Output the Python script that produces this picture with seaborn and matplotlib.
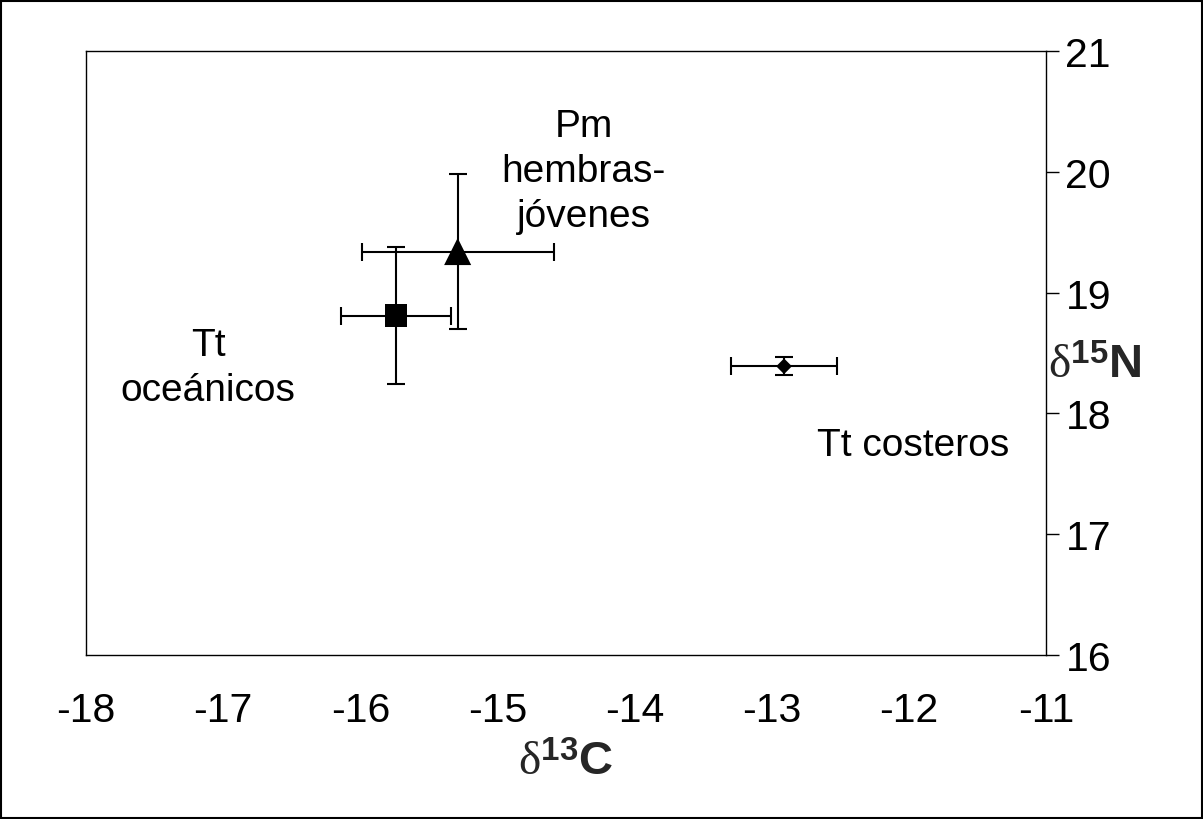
import matplotlib
matplotlib.use("Agg")
import matplotlib.pyplot as plt
import seaborn as sns
import pandas as pd
from matplotlib.patches import Rectangle

# ---- data ----
groups = ["Tt oceánicos", "Pm hembras-jóvenes", "Tt costeros"]
d13C = [-15.74, -15.29, -12.91]
d15N = [18.81, 19.34, 18.39]
d13C_err = [0.40, 0.70, 0.385]
d15N_err = [0.57, 0.64, 0.075]
markers = ["s", "^", "D"]
marker_sizes = [16.3, 19.5, 8.0]

xticks = [-18, -17, -16, -15, -14, -13, -12, -11]
yticks = [16, 17, 18, 19, 20, 21]

labels_text = ["Tt\noceánicos", "Pm\nhembras-\njóvenes", "Tt costeros"]
labels_x = [-17.11, -14.37, -11.97]
labels_y = [18.38, 20.01, 17.74]

df = pd.DataFrame({"group": groups, "d13C": d13C, "d15N": d15N})

sns.set_theme(style="white")
plt.rcParams["font.family"] = ["Liberation Sans", "DejaVu Sans"]
plt.rcParams["mathtext.fontset"] = "custom"
plt.rcParams["mathtext.rm"] = "Liberation Serif"
plt.rcParams["mathtext.bf"] = "Liberation Sans:bold"
plt.rcParams["mathtext.it"] = "Liberation Serif:italic"

fig = plt.figure(figsize=(12.03, 8.2), dpi=100)
ax = fig.add_axes([86 / 1203, 1 - 656 / 820, (1046 - 86) / 1203, (656 - 52) / 820])

ax.errorbar(d13C, d15N, xerr=d13C_err, yerr=d15N_err, fmt="none",
            ecolor="black", elinewidth=1.5, capsize=6.5, capthick=1.5, zorder=2)

sns.scatterplot(data=df, x="d13C", y="d15N", style="group",
                markers=dict(zip(groups, markers)),
                size="group", sizes=dict(zip(groups, [m ** 2 for m in marker_sizes])),
                color="black", edgecolor="black", linewidth=0, legend=False,
                ax=ax, zorder=3)

for t, x, y in zip(labels_text, labels_x, labels_y):
    ax.text(x, y, t, ha="center", va="center", multialignment="center",
            fontsize=28, color="black", linespacing=1.32)

ax.set_xlim(-18, -11)
ax.set_ylim(16, 21)
ax.set_xticks(xticks)
ax.set_xticklabels([str(v) for v in xticks])
ax.set_yticks(yticks)
ax.set_yticklabels([str(v) for v in yticks])
ax.yaxis.tick_right()
ax.tick_params(axis="both", direction="out", length=9, width=1.0, color="black",
               labelsize=29.5, labelcolor="black")
ax.tick_params(axis="x", pad=17)
ax.tick_params(axis="y", pad=5, left=False, right=True)

for s in ax.spines.values():
    s.set_visible(True)
    s.set_color("black")
    s.set_linewidth(1.0)

ax.set_xlabel("")
ax.set_ylabel("")
fig.text(566 / 1203, 1 - 763 / 820, r"$\mathrm{δ}^{\mathbf{13}}\mathbf{C}$",
         fontsize=34, ha="center", va="center")
fig.text(1095 / 1203, 1 - 366 / 820, r"$\mathrm{δ}^{\mathbf{15}}\mathbf{N}$",
         fontsize=34, ha="center", va="center")

ax.grid(False)
ax.set_facecolor("white")

fig.patches.append(Rectangle((0.001, 0.001), 0.998, 0.997, transform=fig.transFigure,
                             fill=False, edgecolor="black", linewidth=1.5))

fig.savefig("out.png", dpi=100, facecolor="white")
